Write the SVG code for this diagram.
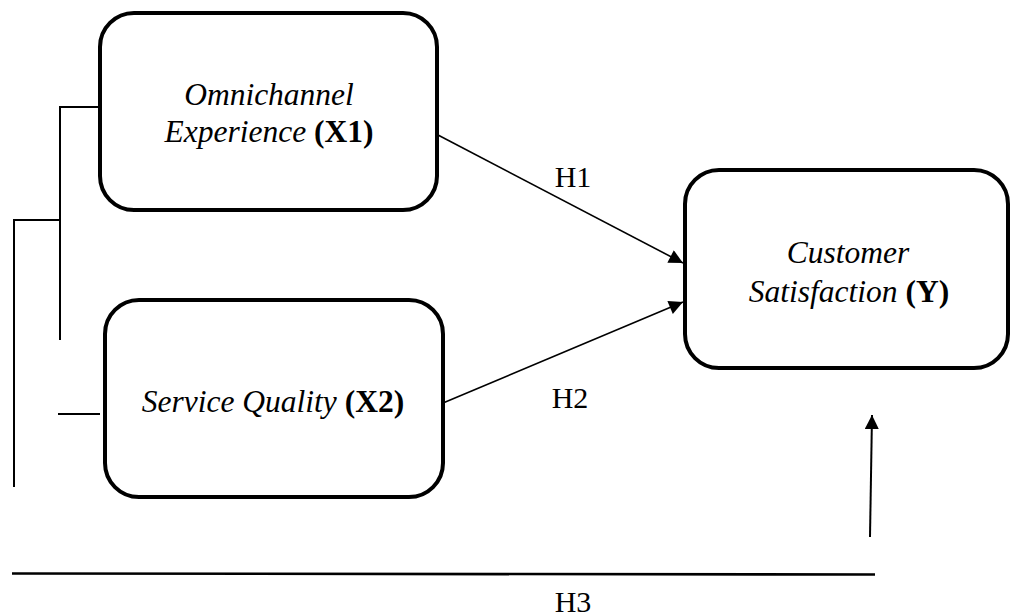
<svg xmlns="http://www.w3.org/2000/svg" width="1011" height="616" viewBox="0 0 1011 616">
<style>
.box{fill:#fff;stroke:#000;stroke-width:4}
.i{font-style:italic}
.b{font-weight:bold}
.c{stroke:#000;stroke-width:1.6;fill:none}
.k{stroke:#000;stroke-width:2;fill:none}
</style>
<defs>
<marker id="ah2" viewBox="0 0 10 10" refX="10" refY="5" markerWidth="16" markerHeight="14" markerUnits="userSpaceOnUse" orient="auto">
<path d="M0,0 L10,5 L0,10 Z" fill="#000"/>
</marker>
</defs>
<g id="connectors">
<line class="c" x1="438" y1="135" x2="683" y2="263" marker-end="url(#ah2)"/>
<line class="c" x1="443" y1="403" x2="683" y2="302" marker-end="url(#ah2)"/>
<line x1="870" y1="537" x2="872" y2="415" stroke="#000" stroke-width="2" marker-end="url(#ah2)"/>
<line x1="12" y1="573.5" x2="875" y2="574.5" stroke="#000" stroke-width="2.6"/>
<polyline class="k" points="100,107 60,107 60,340"/>
<polyline class="k" points="60,220 14,220 14,487"/>
<line class="k" x1="58" y1="414" x2="100" y2="414"/>
<g font-family="Liberation Serif, Times New Roman, serif" font-size="30" fill="#000" text-anchor="middle">
<text x="573" y="187">H1</text>
<text x="570" y="408">H2</text>
<text x="573" y="612">H3</text>
</g>
</g>
<g id="node-x1">
<rect class="box" x="100" y="13" width="337" height="197" rx="34"/>
<g font-family="Liberation Serif, Times New Roman, serif" font-size="31.5" fill="#000" text-anchor="middle">
<text class="i" x="269" y="105">Omnichannel</text>
<text x="269" y="142"><tspan class="i">Experience</tspan> <tspan class="b">(X1)</tspan></text>
</g>
</g>
<g id="node-x2">
<rect class="box" x="105" y="300" width="338" height="197" rx="34"/>
<g font-family="Liberation Serif, Times New Roman, serif" font-size="31.5" fill="#000" text-anchor="middle">
<text x="273" y="412"><tspan class="i">Service Quality</tspan> <tspan class="b">(X2)</tspan></text>
</g>
</g>
<g id="node-y">
<rect class="box" x="685" y="170" width="323" height="198" rx="34"/>
<g font-family="Liberation Serif, Times New Roman, serif" font-size="31.5" fill="#000" text-anchor="middle">
<text class="i" x="848" y="263">Customer</text>
<text x="849" y="302"><tspan class="i">Satisfaction</tspan> <tspan class="b">(Y)</tspan></text>
</g>
</g>
</svg>
